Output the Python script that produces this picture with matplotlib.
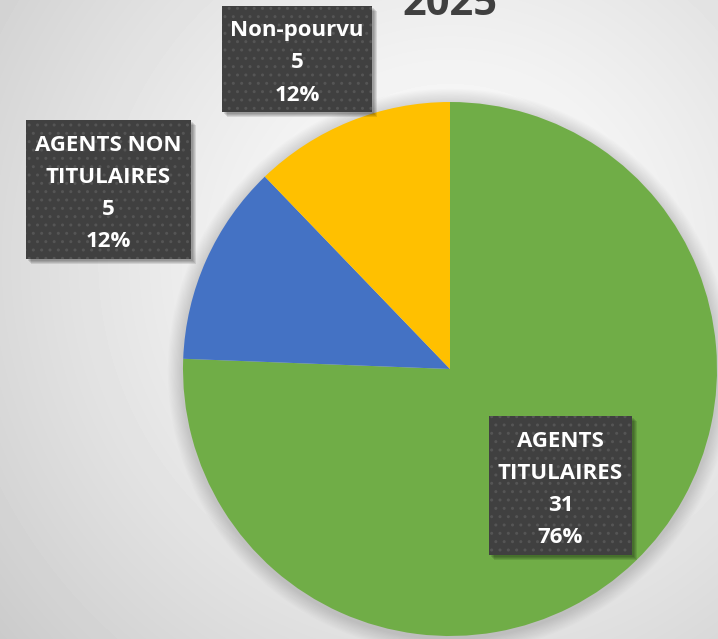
import numpy as np
import matplotlib
matplotlib.use("Agg")
import matplotlib.pyplot as plt
from matplotlib.patches import Rectangle

# data
categories = ["AGENTS TITULAIRES", "AGENTS NON TITULAIRES", "Non-pourvu"]
counts = [31, 5, 5]
colors = ["#70AD47", "#4472C4", "#FFC000"]
title = "2025"

W, H = 718, 639
plt.rcParams['font.family'] = ['Open Sans', 'DejaVu Sans']

fig = plt.figure(figsize=(W / 100, H / 100), dpi=100)

# radial grey background
bg = fig.add_axes([0, 0, 1, 1])
yy, xx = np.mgrid[0:H, 0:W]
dist = np.sqrt((xx - 450) ** 2 + (yy - 260) ** 2) / 620
shade = np.clip(1.0 - 0.22 * dist ** 1.3, 0, 1)
bg.imshow(shade, cmap='gray', vmin=0, vmax=1, extent=[0, W, 0, H], aspect='auto')
bg.axis('off')

ax = fig.add_axes([0, 0, 1, 1])
ax.axis('off')

cx, cy, r = 450, H - 369, 267
# soft shadow behind pie
for k in range(12):
    ax.add_patch(plt.Circle((cx, cy - 2), r + 2 + k * 1.2, color='black',
                            alpha=0.012, lw=0))
ax.pie(counts, colors=colors, startangle=90, counterclock=False,
       center=(cx, cy), radius=r, wedgeprops=dict(linewidth=0))
ax.set_xlim(0, W)
ax.set_ylim(0, H)
ax.set_aspect('auto')

ax.text(450, H - 15, title, ha='center', va='baseline', fontsize=30,
        fontweight='bold', color='#404040')

total = sum(counts)
boxes = [(489, 416, 632, 555), (26, 120, 191, 259), (222, 6, 372, 112)]
for name, n, (x0, y0, x1, y1) in zip(categories, counts, boxes):
    w, h = x1 - x0, y1 - y0
    for k in range(4):
        ax.add_patch(Rectangle((x0 + 2 + k, H - y1 - 2 - k), w, h, color='black',
                               alpha=0.1, lw=0))
    ax.add_patch(Rectangle((x0, H - y1), w, h, facecolor='#404040', lw=0))
    ax.add_patch(Rectangle((x0, H - y1), w, h, facecolor='none', edgecolor='#555555',
                           hatch='..', lw=0))
    label = name
    if name == "AGENTS TITULAIRES":
        label = "AGENTS\nTITULAIRES"
    elif name == "AGENTS NON TITULAIRES":
        label = "AGENTS NON\nTITULAIRES"
    pct = round(100 * n / total)
    ax.text((x0 + x1) / 2, H - (y0 + y1) / 2 - 4, f"{label}\n{n}\n{pct}%",
            ha='center', va='center', ma='center', fontsize=16,
            fontweight='bold', color='white', linespacing=1.7)

fig.savefig("out.png", dpi=100)
